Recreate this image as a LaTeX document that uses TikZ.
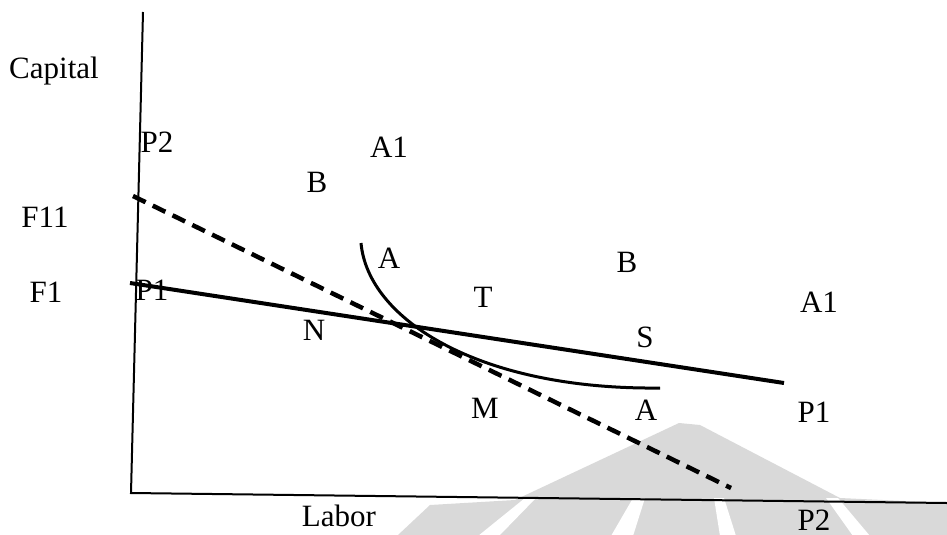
\documentclass[tikz,border=0pt]{standalone}
\usepackage{fontspec}
\setmainfont{Liberation Serif}
\begin{document}
\begin{tikzpicture}[x=1pt,y=-1pt,
  lbl/.style={inner sep=0pt,anchor=base,font=\fontsize{31}{36}\selectfont},
  axisline/.style={line width=2pt,black},
  solidline/.style={line width=4pt,black},
  dashline/.style={line width=4.5pt,black,dash pattern=on 14pt off 8pt},
  isoq/.style={line width=3pt,black},
  wmark/.style={fill=black!15,draw=none},
  wgap/.style={fill=white,draw=none}]
\useasboundingbox (0,0) rectangle (947,535);
% watermark
\fill[wmark] (398,535) -- (430,505) -- (515,500) -- (679,423) -- (700,425) -- (840,498) -- (947,503) -- (947,535) -- cycle;
\fill[wgap] (525,498) -- (536,498) -- (499,536) -- (478,536) -- cycle;
\fill[wgap] (633,498) -- (645,498) -- (633,536) -- (611,536) -- cycle;
\fill[wgap] (714,498) -- (724,498) -- (736,536) -- (720,536) -- cycle;
\fill[wgap] (826,498) -- (838,498) -- (870,536) -- (853,536) -- cycle;
% coordinates
\coordinate (ytop) at (143,12);
\coordinate (o) at (131,493);
\coordinate (xend) at (947,503);
\coordinate (p1a) at (130,283);
\coordinate (p1b) at (784,383);
\coordinate (p2a) at (133,196);
\coordinate (p2b) at (731,488);
\coordinate (qa) at (361,243);
\coordinate (qb) at (660,388);
% axes
\draw[axisline] (ytop) -- (o) -- (xend);
% lines
\draw[dashline] (p2a) -- (p2b);
\draw[solidline] (p1a) -- (p1b);
\draw[isoq] (qa) .. controls (368,320) and (480,390) .. (qb);
% labels
\node[lbl] (capital) at (54,78) {Capital};
\node[lbl] (labor) at (339,526) {Labor};
\node[lbl] (p2top) at (157,152) {P2};
\node[lbl] (a1top) at (389,157) {A1};
\node[lbl] (btop) at (317,192) {B};
\node[lbl] (f11) at (45,227) {F11};
\node[lbl] (f1) at (46,302) {F1};
\node[lbl] (p1left) at (152,300) {P1};
\node[lbl] (aup) at (389,268) {A};
\node[lbl] (t) at (483,307) {T};
\node[lbl] (bright) at (627,272) {B};
\node[lbl] (n) at (314,340) {N};
\node[lbl] (s) at (645,347) {S};
\node[lbl] (m) at (485,418) {M};
\node[lbl] (alow) at (646,420) {A};
\node[lbl] (a1right) at (819,312) {A1};
\node[lbl] (p1right) at (814,422) {P1};
\node[lbl] (p2bot) at (814,530) {P2};
\end{tikzpicture}
\end{document}
